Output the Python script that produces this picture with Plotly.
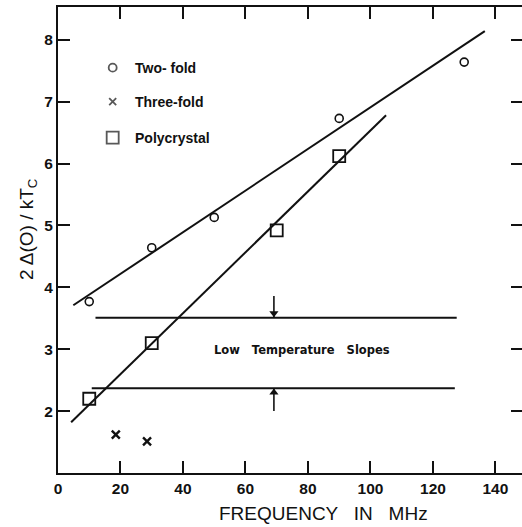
import plotly.graph_objects as go

# Measured points
two_fold_f = [10, 30, 50, 90, 130]
two_fold_gap = [3.77, 4.64, 5.13, 6.73, 7.64]

three_fold_f = [18.5, 28.5]
three_fold_gap = [1.62, 1.51]

poly_f = [10, 30, 70, 90]
poly_gap = [2.2, 3.1, 4.92, 6.12]

# Straight-line fits (end points)
two_fold_fit_f = [4.9, 136.6]
two_fold_fit_gap = [3.71, 8.14]
poly_fit_f = [4.2, 105.0]
poly_fit_gap = [1.82, 6.78]

# Low temperature slope levels
slope_levels = [3.51, 2.37]
slope_f_start = [12.0, 10.8]
slope_f_end = [127.6, 127.0]
arrow_f = 69.1
arrow_tails = [3.86, 2.0]
arrow_heads = ["triangle-down", "triangle-up"]
head_offset = [0.07, -0.07]

x_ticks = [0, 20, 40, 60, 80, 100, 120, 140]
y_ticks = [2, 3, 4, 5, 6, 7, 8]

legend_items = ["Two- fold", "Three-fold", "Polycrystal"]
legend_y = [7.55, 7.0, 6.42]
legend_symbols = ["circle-open", "x-thin-open", "square-open"]
legend_sizes = [8, 7, 12]

BLACK = "#111111"
FONT = "Liberation Sans"

W, H = 522, 527
ML, MR, MT, MB = 58, 0, 7, 54
PW, PH = W - ML - MR, H - MT - MB

fig = go.Figure()

fig.add_trace(go.Scatter(x=two_fold_fit_f, y=two_fold_fit_gap, mode="lines",
                         line=dict(color=BLACK, width=2), showlegend=False))
fig.add_trace(go.Scatter(x=poly_fit_f, y=poly_fit_gap, mode="lines",
                         line=dict(color=BLACK, width=2), showlegend=False))

for lvl, xs, xe in zip(slope_levels, slope_f_start, slope_f_end):
    fig.add_trace(go.Scatter(x=[xs, xe], y=[lvl, lvl], mode="lines",
                             line=dict(color=BLACK, width=2), showlegend=False))

# Arrow shafts with triangular heads touching the slope levels
for lvl, tail in zip(slope_levels, arrow_tails):
    fig.add_trace(go.Scatter(x=[arrow_f, arrow_f], y=[tail, lvl], mode="lines",
                             line=dict(color=BLACK, width=1.6), showlegend=False))
fig.add_trace(go.Scatter(x=[arrow_f, arrow_f],
                         y=[lvl + off for lvl, off in zip(slope_levels, head_offset)],
                         mode="markers",
                         marker=dict(symbol=arrow_heads, size=8, color=BLACK,
                                     line=dict(width=0)),
                         showlegend=False))

fig.add_trace(go.Scatter(x=two_fold_f, y=two_fold_gap, mode="markers",
                         marker=dict(symbol="circle-open", size=8, color=BLACK,
                                     line=dict(width=1.6, color=BLACK)),
                         showlegend=False))
fig.add_trace(go.Scatter(x=three_fold_f, y=three_fold_gap, mode="markers",
                         marker=dict(symbol="x-thin-open", size=8, color=BLACK,
                                     line=dict(width=2.4, color=BLACK)),
                         showlegend=False))
fig.add_trace(go.Scatter(x=poly_f, y=poly_gap, mode="markers",
                         marker=dict(symbol="square-open", size=12, color=BLACK,
                                     line=dict(width=1.8, color=BLACK)),
                         showlegend=False))

# In-plot key
legend_x = 17.5
fig.add_trace(go.Scatter(x=[legend_x] * 3, y=legend_y, mode="markers",
                         marker=dict(symbol=legend_symbols, size=legend_sizes, color=BLACK,
                                     line=dict(width=1.8, color=BLACK)),
                         showlegend=False))
for label, ly in zip(legend_items, legend_y):
    fig.add_annotation(x=24.0, y=ly, text=label, showarrow=False, xanchor="left",
                       yanchor="middle",
                       font=dict(family=FONT, size=14, color=BLACK, weight="bold"))

fig.add_annotation(x=78.0, y=2.98, text="Low   Temperature   Slopes", showarrow=False,
                   xanchor="center", yanchor="middle",
                   font=dict(family="DejaVu Sans", size=11.5, color=BLACK, weight="bold"))

# Axis titles, placed in pixels and converted to paper fractions
def paper_x(px):
    return (px - ML) / PW


def paper_y(py):
    return (H - py - MB) / PH


fig.add_annotation(x=paper_x(323), y=paper_y(513), xref="paper", yref="paper",
                   text="FREQUENCY   IN   MHz", showarrow=False,
                   xanchor="center", yanchor="middle",
                   font=dict(family=FONT, size=19, color=BLACK))
fig.add_annotation(x=paper_x(28), y=paper_y(229), xref="paper", yref="paper",
                   text="2 \u0394(O) / kT<sub>C</sub>", showarrow=False, textangle=-90,
                   xanchor="center", yanchor="middle",
                   font=dict(family=FONT, size=19, color=BLACK))

fig.update_layout(
    width=W, height=H,
    margin=dict(l=ML, r=MR, t=MT, b=MB),
    paper_bgcolor="white", plot_bgcolor="white",
    font=dict(family=FONT, color=BLACK),
    xaxis=dict(range=[0, 148.5], tickvals=x_ticks, ticks="inside", ticklen=12, tickwidth=2,
               tickcolor=BLACK, showline=True, linecolor=BLACK, linewidth=2, mirror="ticks",
               showgrid=False, zeroline=False,
               tickfont=dict(family=FONT, size=15.5, color=BLACK, weight="bold")),
    yaxis=dict(range=[1.0, 8.53], tickvals=y_ticks, ticks="inside", ticklen=12, tickwidth=2,
               tickcolor=BLACK, showline=True, linecolor=BLACK, linewidth=2,
               showgrid=False, zeroline=False,
               tickfont=dict(family=FONT, size=15.5, color=BLACK, weight="bold")),
    yaxis2=dict(range=[1.0, 8.53], tickvals=y_ticks, ticks="inside", ticklen=11, tickwidth=2,
                tickcolor=BLACK, showline=False, showticklabels=False, showgrid=False,
                zeroline=False, overlaying="y", side="right"),
)
fig.add_trace(go.Scatter(x=[None], y=[None], yaxis="y2", showlegend=False, hoverinfo="skip"))

fig.write_html("out.html")
